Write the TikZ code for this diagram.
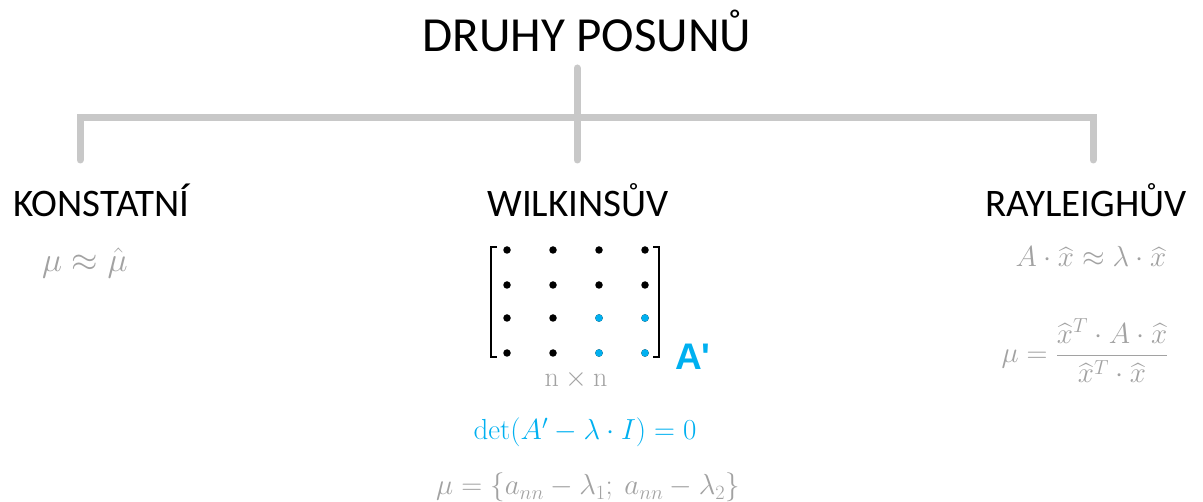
\RequirePackage{fix-cm}
\documentclass[tikz,border=0pt]{standalone}
\usepackage{amsmath}
\usepackage[no-math]{fontspec}
\setmainfont{Carlito}
\newfontfamily\arialbold{Liberation Sans}
\definecolor{lgray}{HTML}{C8C8C8}
\definecolor{tgray}{HTML}{A2A2A2}
\definecolor{cblue}{HTML}{00B0F0}
\tikzset{
  conn/.style={draw=lgray, line width=7pt, line cap=round},
  head/.style={inner sep=0pt, font=\fontsize{39}{42}\selectfont},
  mtext/.style={inner sep=0pt, text=tgray, font=\fontsize{29}{33}\selectfont},
  dotb/.style={circle, fill=black, inner sep=0pt, minimum size=7.5pt},
  dotc/.style={circle, fill=cblue, inner sep=0pt, minimum size=7.5pt},
  brk/.style={draw=black, line width=2pt},
}
\begin{document}
\begin{tikzpicture}[x=1pt,y=-1pt]
\useasboundingbox (0,0) rectangle (1203,502);
% title
\node[inner sep=0pt, anchor=base, font=\fontsize{49}{52}\selectfont] (title) at (587,52) {DRUHY POSUNŮ};
% tree connectors
\coordinate (ctop) at (577,68);
\coordinate (cmid) at (577,118);
\coordinate (cbot) at (577,160);
\coordinate (cl) at (80,118);
\coordinate (clb) at (80,160);
\coordinate (cr) at (1093,118);
\coordinate (crb) at (1093,160);
\draw[conn] (ctop) -- (cbot);
\draw[conn] (clb) -- (cl) -- (cr) -- (crb);
% headings
\node[head, anchor=base west] (konst) at (13,217) {KONSTATNÍ};
\node[head, anchor=base] (wilk) at (578,217) {WILKINSŮV};
\node[head, anchor=base] (rayl) at (1086,217) {RAYLEIGHŮV};
% konstantni
\node[mtext, anchor=base west, font=\fontsize{34}{38}\selectfont] (kmu) at (42,272) {$\mu \approx \hat{\mu}$};
% matrix
\foreach \r/\y in {1/250,2/285,3/318,4/353}{
  \foreach \c/\x in {1/507,2/553,3/599,4/645}{
    \node[dotb] (d\r\c) at (\x,\y) {};
  }
}
\foreach \r/\y in {3/318,4/353}{
  \foreach \c/\x in {3/599,4/645}{
    \node[dotc] (e\r\c) at (\x,\y) {};
  }
}
\draw[brk] (497,247) -- (491,247) -- (491,357) -- (497,357);
\draw[brk] (653,247) -- (659,247) -- (659,357) -- (653,357);
\node[inner sep=0pt, anchor=base west, text=cblue, font=\arialbold\bfseries\fontsize{37}{40}\selectfont] (aprime) at (675,370) {A\textquotesingle};
\node[mtext, anchor=base, font=\fontsize{28}{32}\selectfont] (nxn) at (576,387) {$\mathrm{n}\times\mathrm{n}$};
\node[mtext, anchor=base, text=cblue] (det) at (585,440) {$\det(A' - \lambda\cdot I) = 0$};
\node[mtext, anchor=base] (wmu) at (588,495) {$\mu = \{a_{nn} - \lambda_1;\ a_{nn} - \lambda_2\}$};
% rayleigh
\node[mtext, anchor=base] (rapp) at (1091,267) {$A\cdot\widehat{x} \approx \lambda\cdot\widehat{x}$};
\node[mtext, anchor=base] (rmu) at (1085,363) {$\mu = \dfrac{\widehat{x}^T\cdot A\cdot\widehat{x}}{\widehat{x}^T\cdot\widehat{x}}$};
\end{tikzpicture}
\end{document}
